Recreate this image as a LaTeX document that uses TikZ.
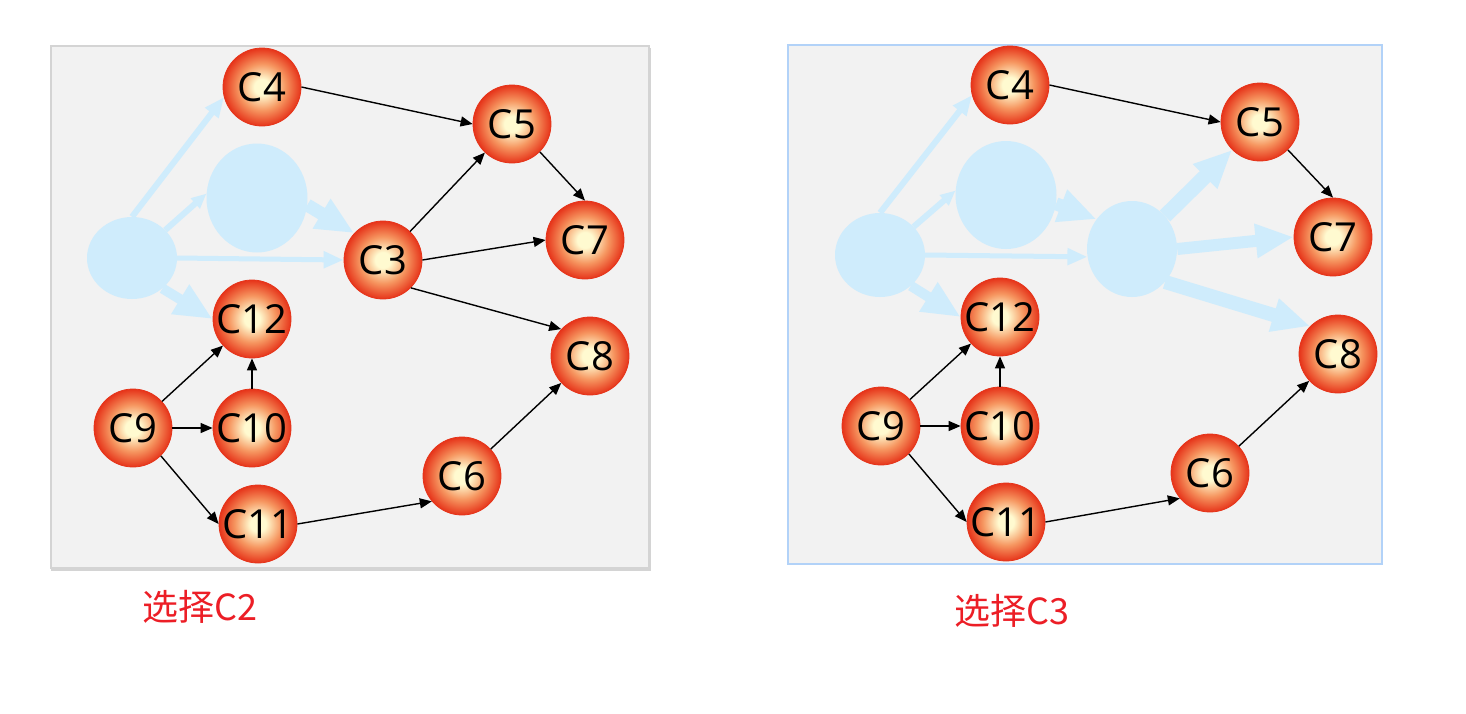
\documentclass[tikz,border=0pt]{standalone}
\usepackage{fontspec}
\setsansfont{Open Sans}
\newfontfamily\cjk{Noto Sans CJK SC}
\usetikzlibrary{arrows.meta,shapes.geometric}
\definecolor{azzurro}{RGB}{207,236,252}
\definecolor{sfondo}{RGB}{242,242,242}
\definecolor{grigio}{RGB}{212,212,212}
\definecolor{bordoblu}{RGB}{178,210,248}
\definecolor{rosso}{RGB}{230,52,26}
\definecolor{arancio}{RGB}{246,150,96}
\definecolor{giallo}{RGB}{255,250,208}
\definecolor{scritta}{RGB}{236,30,38}
\pgfdeclareradialshading{palla}{\pgfpoint{0bp}{0bp}}{color(0bp)=(giallo); color(5bp)=(giallo); color(15bp)=(arancio); color(25bp)=(rosso); color(50bp)=(rosso)}
\begin{document}
\begin{tikzpicture}[x=1pt,y=-1pt,
    nodo/.style={circle,minimum size=78pt,inner sep=0pt,shading=palla,draw=rosso,line width=0.8pt,
        font=\sffamily\fontsize{40}{40}\selectfont},
    nascosto/.style={ellipse,inner sep=0pt,fill=azzurro},
    arco/.style={line width=1.4pt,-{Triangle[length=12pt,width=10pt]}},
    leggero/.style={draw=azzurro,line width=6pt,-{Triangle[length=20pt,width=16pt]}},
    pesante/.style={draw=azzurro,line width=13pt,-{Triangle[length=38pt,width=32pt]}},
    etichetta/.style={text=scritta,font=\cjk\fontsize{36}{36}\selectfont}]
    \useasboundingbox (0,0) rectangle (1466,713);
    %riquadri
    \draw[grigio,line width=2pt] (52,49) rectangle (650,570);
    \draw[grigio,fill=sfondo,line width=1.2pt] (51,46) rectangle (649,568);
    \draw[bordoblu,fill=sfondo,line width=2pt] (788,45) rectangle (1382,564);

    %nodi a sinistra (selezione C2)
    \node[nascosto,minimum width=90pt,minimum height=82pt] (sC1) at (132,258) {};
    \node[nascosto,minimum width=101pt,minimum height=109pt] (sC2) at (257,198) {};
    \node[nodo] (sC3) at (383,260) {C3};
    \node[nodo] (sC4) at (262,87) {C4};
    \node[nodo] (sC5) at (512,124) {C5};
    \node[nodo] (sC6) at (462,476) {C6};
    \node[nodo] (sC7) at (585,240) {C7};
    \node[nodo] (sC8) at (590,356) {C8};
    \node[nodo] (sC9) at (133,428) {C9};
    \node[nodo] (sC10) at (252,428) {C10};
    \node[nodo] (sC11) at (258,524) {C11};
    \node[nodo] (sC12) at (252,319) {C12};

    %nodi a destra (selezione C3)
    \node[nascosto,minimum width=90pt,minimum height=84pt] (dC1) at (880,255) {};
    \node[nascosto,minimum width=101pt,minimum height=108pt] (dC2) at (1006,195) {};
    \node[nascosto,minimum width=90pt,minimum height=96pt] (dC3) at (1132,249) {};
    \node[nodo] (dC4) at (1010,85) {C4};
    \node[nodo] (dC5) at (1260,122) {C5};
    \node[nodo] (dC6) at (1210,473) {C6};
    \node[nodo] (dC7) at (1333,237) {C7};
    \node[nodo] (dC8) at (1338,354) {C8};
    \node[nodo] (dC9) at (881,426) {C9};
    \node[nodo] (dC10) at (1000,426) {C10};
    \node[nodo] (dC11) at (1006,522) {C11};
    \node[nodo] (dC12) at (1000,317) {C12};

    %archi sbiaditi
    \draw[leggero] (sC1.north) -- (sC4.195);
    \draw[leggero,-{Triangle[length=15pt,width=13pt]}] (sC1.40) -- (sC2.175);
    \draw[leggero,line width=5pt] (sC1.east) -- (sC3.west);
    \draw[pesante,line width=10pt] (sC1.-45) -- (sC12.west);
    \draw[pesante] (sC2.-8) -- (sC3.137);

    \draw[leggero] (dC1.north) -- (dC4.195);
    \draw[leggero,-{Triangle[length=15pt,width=13pt]}] (dC1.40) -- (dC2.175);
    \draw[leggero,line width=5pt] (dC1.east) -- (dC3.190);
    \draw[pesante,line width=10pt] (dC1.-45) -- (dC12.west);
    \draw[pesante] (dC2.-10) -- (dC3.140);
    \draw[pesante,line width=15pt] (dC3.45) -- (dC5.225);
    \draw[pesante,line width=12pt] (dC3.east) -- (dC7.west);
    \draw[pesante,line width=14pt] (dC3.-45) -- (dC8.135);

    %archi a sinistra
    \draw[arco] (sC4.east) -- (sC5.west);
    \draw[arco] (sC3) -- (sC5);
    \draw[arco] (sC3.east) -- (sC7.west);
    \draw[arco] (sC3.-45) -- (sC8.137);
    \draw[arco] (sC5.-45) -- (sC7.north);
    \draw[arco] (sC9) -- (sC12);
    \draw[arco] (sC9) -- (sC10);
    \draw[arco] (sC10) -- (sC12);
    \draw[arco] (sC9.-45) -- (sC11.west);
    \draw[arco] (sC11.east) -- (sC6.220);
    \draw[arco] (sC6) -- (sC8);

    %archi a destra
    \draw[arco] (dC4.east) -- (dC5.west);
    \draw[arco] (dC5.-45) -- (dC7.north);
    \draw[arco] (dC9) -- (dC12);
    \draw[arco] (dC9) -- (dC10);
    \draw[arco] (dC10) -- (dC12);
    \draw[arco] (dC9.-45) -- (dC11.west);
    \draw[arco] (dC11.east) -- (dC6.220);
    \draw[arco] (dC6) -- (dC8);

    %etichette
    \node[etichetta] (tsx) at (200,607) {选择C2};
    \node[etichetta] (tdx) at (1012,611) {选择C3};
\end{tikzpicture}
\end{document}
